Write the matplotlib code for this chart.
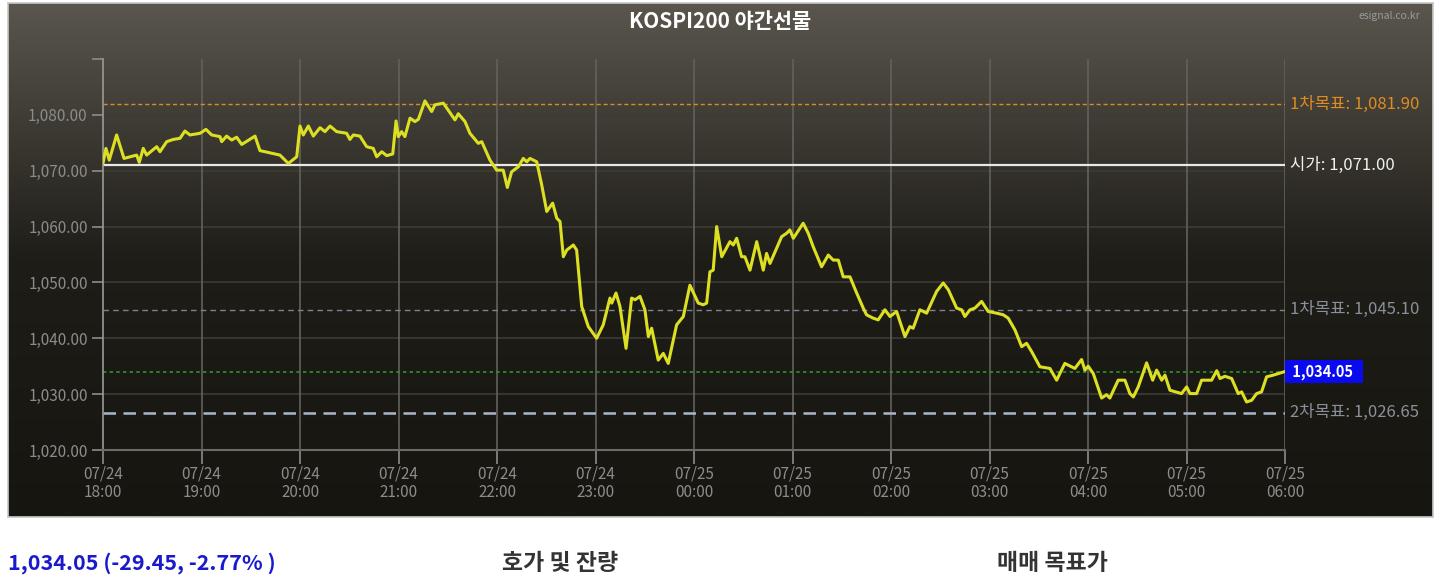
import numpy as np
import matplotlib.pyplot as plt
import matplotlib.transforms as mtransforms

plt.rcParams['font.family'] = ['Noto Sans CJK KR', 'DejaVu Sans']

# minutes since 07/24 18:00
minutes = [0, 1.8, 3.8, 8.3, 12.8, 20.5, 22.1, 24.5, 26.6, 32.7, 34.7, 38.8, 42.8, 46.9, 49.9,
           53.0, 59.1, 62.7, 66.2, 71.3, 72.3, 75.3, 78.4, 81.4, 84.5, 92.6, 95.6, 101.7, 107.8,
           112.9, 118.0, 120.0, 122.0, 125.1, 128.1, 132.2, 135.2, 138.3, 142.3, 148.4, 150.4,
           152.5, 156.5, 160.6, 164.6, 166.7, 169.8, 172.8, 176.5, 178.5, 179.9, 181.9, 183.9,
           187.0, 190.0, 192.1, 196.1, 200.2, 202.2, 207.3, 214.4, 216.4, 220.5, 223.5, 228.6,
           230.7, 235.7, 239.8, 243.8, 246.3, 248.9, 253.0, 256.0, 258.1, 260.1, 264.2, 267.2,
           270.3, 273.9, 276.4, 278.4, 280.4, 282.5, 286.5, 288.5, 291.6, 295.6, 300.7, 304.7,
           308.8, 309.9, 312.5, 314.9, 318.6, 322.0, 324.1, 327.1, 330.1, 332.2, 334.2, 338.2,
           341.3, 344.3, 349.4, 353.5, 357.5, 362.6, 365.6, 367.7, 369.7, 371.7, 373.8, 376.9,
           381.9, 383.9, 386.0, 389.0, 391.0, 394.1, 398.2, 402.2, 404.2, 406.3, 410.3, 413.4,
           416.4, 418.4, 420.5, 426.5, 429.6, 432.6, 437.7, 441.8, 444.8, 447.9, 450.9, 455.0,
           459.1, 463.1, 465.1, 469.2, 472.2, 476.3, 479.4, 483.4, 488.5, 491.5, 493.5, 497.6,
           501.7, 507.8, 511.8, 514.9, 520.0, 523.0, 525.0, 528.1, 531.1, 535.2, 539.2, 544.3,
           548.4, 551.4, 555.5, 559.6, 562.6, 565.7, 570.7, 576.8, 580.9, 585.9, 592.0, 596.1,
           598.1, 600.1, 603.2, 608.3, 611.3, 613.3, 618.4, 622.5, 625.5, 627.6, 630.6, 635.7,
           639.4, 641.8, 644.9, 646.9, 649.9, 657.0, 660.1, 662.1, 666.2, 669.2, 675.3, 678.4,
           680.4, 683.4, 687.5, 691.5, 693.6, 696.6, 699.7, 702.7, 705.7, 708.8, 712.8, 720]
price = [1071.3, 1074.0, 1071.9, 1076.4, 1072.2, 1072.8, 1071.5, 1074.0, 1072.8, 1074.3, 1073.4,
         1075.2, 1075.6, 1075.8, 1077.1, 1076.4, 1076.7, 1077.4, 1076.4, 1076.1, 1075.2, 1076.2,
         1075.5, 1076.0, 1074.7, 1076.2, 1073.6, 1073.2, 1072.8, 1071.3, 1072.5, 1078.0, 1076.4,
         1078.0, 1076.2, 1077.7, 1077.0, 1078.0, 1077.0, 1076.7, 1075.6, 1076.4, 1076.2, 1074.3,
         1074.0, 1072.5, 1073.4, 1072.7, 1073.0, 1078.9, 1076.1, 1077.0, 1076.1, 1079.4, 1078.8,
         1079.2, 1082.5, 1080.6, 1081.8, 1082.1, 1079.1, 1080.2, 1078.8, 1076.7, 1074.9, 1075.2,
         1071.9, 1070.1, 1070.1, 1067.0, 1069.8, 1070.7, 1072.2, 1071.6, 1072.2, 1071.6, 1067.5,
         1062.7, 1064.2, 1061.5, 1060.9, 1054.6, 1055.8, 1056.7, 1055.8, 1045.7, 1042.1, 1040.0,
         1042.4, 1047.2, 1046.3, 1048.1, 1045.7, 1038.2, 1047.2, 1046.9, 1047.5, 1045.1, 1040.3,
         1041.8, 1036.1, 1037.3, 1035.5, 1042.4, 1043.9, 1049.5, 1046.3, 1046.0, 1046.3, 1051.9,
         1052.2, 1060.0, 1054.6, 1057.3, 1056.7, 1057.9, 1054.6, 1054.6, 1052.2, 1057.3, 1052.2,
         1055.2, 1053.4, 1056.1, 1058.2, 1058.8, 1059.4, 1057.9, 1060.6, 1058.8, 1056.4, 1052.8,
         1054.9, 1054.0, 1054.0, 1051.0, 1051.0, 1048.1, 1045.4, 1044.2, 1043.6, 1043.3, 1045.1,
         1043.9, 1044.8, 1040.3, 1042.1, 1041.8, 1045.1, 1044.5, 1048.4, 1049.9, 1048.7, 1045.4,
         1045.1, 1043.9, 1045.1, 1045.4, 1046.6, 1044.8, 1044.5, 1044.2, 1043.6, 1041.5, 1038.5,
         1039.1, 1037.6, 1034.9, 1034.6, 1032.5, 1035.5, 1034.6, 1036.2, 1034.3, 1035.0, 1033.7,
         1029.3, 1029.9, 1029.3, 1032.5, 1032.5, 1030.1, 1029.5, 1031.3, 1035.6, 1032.5, 1034.3,
         1032.5, 1033.4, 1030.7, 1030.1, 1031.3, 1030.1, 1030.1, 1032.5, 1032.5, 1034.2, 1032.8,
         1033.2, 1032.8, 1030.1, 1030.4, 1028.6, 1028.9, 1030.1, 1030.4, 1033.1, 1033.4, 1034.05]

tick_pos = [0, 60, 120, 180, 240, 300, 360, 420, 480, 540, 600, 660, 720]
tick_lab = ['07/24\n18:00', '07/24\n19:00', '07/24\n20:00', '07/24\n21:00', '07/24\n22:00',
            '07/24\n23:00', '07/25\n00:00', '07/25\n01:00', '07/25\n02:00', '07/25\n03:00',
            '07/25\n04:00', '07/25\n05:00', '07/25\n06:00']
y_ticks = [1020, 1030, 1040, 1050, 1060, 1070, 1080, 1090]
y_lab = ['1,020.00', '1,030.00', '1,040.00', '1,050.00', '1,060.00', '1,070.00', '1,080.00', '']

ref_vals = [1081.90, 1071.00, 1045.10, 1034.05, 1026.65]
ref_text = ['1차목표: 1,081.90', '시가: 1,071.00', '1차목표: 1,045.10', '1,034.05', '2차목표: 1,026.65']
ref_col = ['#d98a2a', '#e8e8e8', '#7d8490', '#2a9a2a', '#a8b8cc']
ref_ls = [(0, (3, 2)), '-', (0, (4, 3)), (0, (2, 2)), (0, (5, 3))]
ref_lw = [1.0, 1.6, 1.0, 1.2, 1.8]
txt_col = ['#e08c20', '#f0f0f0', '#8a909a', 'white', '#8a909a']

W, H = 1440, 587
fig = plt.figure(figsize=(W / 100, H / 100), dpi=100)
fig.patch.set_facecolor('white')

# dark gradient panel
bg = fig.add_axes([8 / W, (H - 517) / H, 1425 / W, 514 / H])
top = np.array([0x5a, 0x56, 0x4d]) / 255
mid = np.array([0x1f, 0x1d, 0x18]) / 255
bot = np.array([0x17, 0x15, 0x10]) / 255
t = np.linspace(0, 1, 256)[:, None]
grad = np.where(t < 0.5, top + (mid - top) * (t / 0.5), mid + (bot - mid) * ((t - 0.5) / 0.5))
bg.imshow(grad[:, None, :].repeat(2, axis=1), aspect='auto', extent=[0, 1, 0, 1])
bg.set_xticks([])
bg.set_yticks([])
for s in bg.spines.values():
    s.set_color('#c8c8c8')
    s.set_linewidth(1.2)

ax = fig.add_axes([103 / W, (H - 450) / H, (1285 - 103) / W, (450 - 59) / H])
ax.set_facecolor('none')
ax.set_xlim(0, 720)
ax.set_ylim(1020, 1090)

for yv in y_ticks[1:-1]:
    ax.axhline(yv, color='#3c3b37', lw=1.2, zorder=1)
for xv in tick_pos[1:]:
    ax.axvline(xv, color='#62615c', lw=1.2, zorder=1)

for v, c, ls, lw in zip(ref_vals, ref_col, ref_ls, ref_lw):
    ax.axhline(v, color=c, ls=ls, lw=lw, zorder=2)

ax.plot(minutes, price, color='#dde022', lw=2.2, zorder=3)

ax.set_xticks(tick_pos)
ax.set_xticklabels(tick_lab)
ax.set_yticks(y_ticks)
ax.set_yticklabels(y_lab)
ax.tick_params(axis='both', colors='#8c8c8c', labelsize=11, length=10, width=1.2)
ax.tick_params(axis='x', pad=1)
ax.tick_params(axis='y', length=8, pad=3)
for lab in ax.get_xticklabels() + ax.get_yticklabels():
    lab.set_color('#8c8c8c')
for lab in ax.get_xticklabels():
    lab.set_linespacing(1.1)
ax.spines['left'].set_color('#9a9a9a')
ax.spines['left'].set_linewidth(1.2)
ax.spines['bottom'].set_color('#6a6a66')
ax.spines['bottom'].set_linewidth(1.5)
ax.spines['top'].set_visible(False)
ax.spines['right'].set_visible(False)

trans = mtransforms.blended_transform_factory(ax.transAxes, ax.transData)
for i, (v, s, c) in enumerate(zip(ref_vals, ref_text, txt_col)):
    if i == 3:
        ax.text(1.003, v, ' ' + s + '  ', transform=trans, color=c, fontsize=10.5,
                va='center', ha='left', fontweight='bold',
                bbox=dict(facecolor='#0a0aee', edgecolor='none', pad=2.5))
    else:
        ax.text(1.004, v, s, transform=trans, color=c, fontsize=12, va='center', ha='left')

fig.text(720 / W, 1 - 22 / H, 'KOSPI200 야간선물', color='white', fontsize=15,
         fontweight='bold', ha='center', va='center')
fig.text(1420 / W, 1 - 16 / H, 'esignal.co.kr', color='#9a9a9a', fontsize=7.5,
         ha='right', va='center')

fig.text(8 / W, 1 - 563 / H, '1,034.05 (-29.45, -2.77% )', color='#1a1acc', fontsize=15.5,
         fontweight='bold', ha='left', va='center')
fig.text(560 / W, 1 - 563 / H, '호가 및 잔량', color='#333333', fontsize=16.5,
         fontweight='bold', ha='center', va='center')
fig.text(1052 / W, 1 - 563 / H, '매매 목표가', color='#333333', fontsize=16.5,
         fontweight='bold', ha='center', va='center')

fig.savefig('out.png', dpi=100, facecolor='white')
